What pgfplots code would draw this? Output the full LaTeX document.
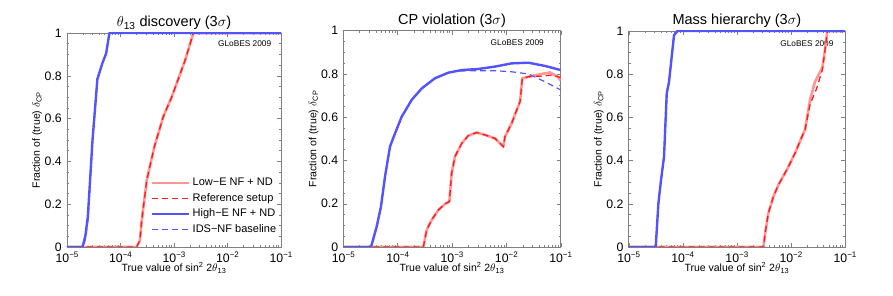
\documentclass[border=0pt]{standalone}
\usepackage{fontspec}
\setmainfont{Liberation Sans}
\usepackage{pgfplots}
\pgfplotsset{compat=1.18}
\definecolor{BlueLine}{RGB}{82,82,255}
\definecolor{BlueDash}{RGB}{85,85,254}
\definecolor{LightRed}{RGB}{255,150,150}
\definecolor{RefRed}{RGB}{255,25,25}
\newcommand{\sups}[1]{\raisebox{4.5pt}{\fontsize{8}{9}\selectfont #1}}
\tikzset{
  globes/.style={font=\fontsize{8.3}{10}\selectfont},
  lredline/.style={draw=LightRed, line width=2.6pt, line join=round},
  rdashline/.style={draw=RefRed, line width=1.3pt, dash pattern=on 6pt off 4pt},
  sblueline/.style={draw=BlueLine, line width=2.4pt, line join=round},
  dblueline/.style={draw=BlueDash, line width=1.2pt, dash pattern=on 6pt off 4pt},
}
\pgfplotsset{
  panel/.style={
    scale only axis,
    anchor=south west,
    xmin=1e-5, xmax=1e-1,
    ymin=0, ymax=1,
    axis line style={gray, line width=0.6pt},
    tick style={gray, line width=0.4pt},
    major tick length=4pt,
    minor tick length=2pt,
    tick align=inside,
    xtick={1e-5,1e-4,1e-3,1e-2,1e-1},
    xticklabels={10\sups{−5},10\sups{−4},10\sups{−3},10\sups{−2},10\sups{−1}},
    ytick={0,0.2,0.4,0.6,0.8,1},
    yticklabels={0,0.2,0.4,0.6,0.8,1},
    minor y tick num=3,
    tick label style={font=\fontsize{12.3}{14}\selectfont},
    xticklabel style={anchor=base, inner sep=0pt, yshift=-15.3pt},
    yticklabel style={anchor=east, inner sep=0pt, xshift=-5pt},
    every axis x label/.style={at={(rel axis cs:0.5,0)}, anchor=base, inner sep=0pt, yshift=-24.7pt, font=\fontsize{10.5}{12}\selectfont},
    every axis y label/.style={at={(rel axis cs:0,0.5)}, xshift=-27pt, rotate=90, anchor=base, inner sep=0pt, font=\fontsize{10.5}{12}\selectfont},
    every axis title/.style={at={(rel axis cs:0.5,1)}, anchor=base, yshift=6pt, font=\fontsize{14.5}{16}\selectfont},
    xlabel={True value of sin\textsuperscript{2} 2$\theta$\textsubscript{13}},
    ylabel={Fraction of (true) $\delta$\textsubscript{CP}},
    clip=true,
  },
}
\begin{document}
\begin{tikzpicture}
\path[use as bounding box] (0pt,0pt) rectangle (893pt,296pt);
% ---------------- Panel 1 ----------------
\begin{semilogxaxis}[panel, at={(67pt,49pt)}, width=214pt, height=214pt,
  title={$\theta$\textsubscript{13} discovery (3$\sigma$)},
  legend style={draw=none, fill=none, at={(rel axis cs:0.99,0.045)}, anchor=south east,
    inner sep=0pt, font=\fontsize{11}{12}\selectfont, row sep=0pt,
    nodes={text height=8pt, text depth=2.5pt, inner sep=2.5pt}},
  legend cell align=left,
]
\node[globes] at (rel axis cs:0.83,0.95) {GLoBES 2009};
\addlegendimage{lredline, legend image code/.code={\draw[lredline] (0pt,0pt) -- (20pt,0pt); \path (0pt,0pt) -- (37pt,0pt);}}
\addlegendentry{Low−E NF + ND}
\addlegendimage{rdashline, legend image code/.code={\draw[rdashline] (0pt,0pt) -- (20pt,0pt); \path (0pt,0pt) -- (37pt,0pt);}}
\addlegendentry{Reference setup}
\addlegendimage{sblueline, legend image code/.code={\draw[sblueline] (0pt,0pt) -- (20pt,0pt); \path (0pt,0pt) -- (37pt,0pt);}}
\addlegendentry{High−E NF + ND}
\addlegendimage{dblueline, legend image code/.code={\draw[dblueline] (0pt,0pt) -- (20pt,0pt); \path (0pt,0pt) -- (37pt,0pt);}}
\addlegendentry{IDS−NF baseline}
\addplot[lredline, forget plot] coordinates {(1e-5,0) (2.0e-4,0) (2.3e-4,0.03) (2.5e-4,0.126) (3.1e-4,0.313) (4.3e-4,0.469) (6.3e-4,0.609) (9.1e-4,0.702) (1.62e-3,0.874) (2.3e-3,1) (1e-1,1)};
\addplot[rdashline, forget plot] coordinates {(1e-5,0) (2.0e-4,0) (2.3e-4,0.03) (2.5e-4,0.126) (3.1e-4,0.313) (4.3e-4,0.469) (6.3e-4,0.609) (9.1e-4,0.702) (1.62e-3,0.874) (2.3e-3,1) (1e-1,1)};
\addplot[sblueline, forget plot] coordinates {(1e-5,0) (1.95e-5,0) (2.2e-5,0.05) (2.45e-5,0.14) (3.0e-5,0.5) (3.7e-5,0.785) (4.6e-5,0.86) (5.4e-5,0.905) (6.2e-5,1) (1e-1,1)};
\addplot[dblueline, forget plot] coordinates {(1e-5,0) (2.05e-5,0) (2.25e-5,0.05) (2.5e-5,0.14) (3.0e-5,0.5) (3.7e-5,0.785) (4.6e-5,0.86) (5.4e-5,0.905) (6.2e-5,1) (1e-1,1)};
\end{semilogxaxis}
% ---------------- Panel 2 ----------------
\begin{semilogxaxis}[panel, at={(343.3pt,49pt)}, width=217.4pt, height=216.3pt,
  title={CP violation (3$\sigma$)},
]
\node[globes] at (rel axis cs:0.80,0.943) {GLoBES 2009};
\addplot[lredline] coordinates {(1e-5,0) (2.97e-4,0) (3.42e-4,0.079) (4.23e-4,0.125) (5.6e-4,0.171) (7.43e-4,0.199) (8.93e-4,0.21) (9.86e-4,0.341) (1.135e-3,0.418) (1.507e-3,0.479) (2.0e-3,0.515) (2.84e-3,0.529) (4.05e-3,0.518) (6.18e-3,0.502) (8.81e-3,0.464) (9.44e-3,0.51) (1.253e-2,0.572) (1.549e-2,0.633) (1.786e-2,0.672) (1.968e-2,0.78) (2.54e-2,0.787) (4.47e-2,0.80) (6.3e-2,0.807) (8.5e-2,0.79) (1e-1,0.77)};
\addplot[rdashline] coordinates {(1e-5,0) (2.97e-4,0) (3.42e-4,0.079) (4.23e-4,0.125) (5.6e-4,0.171) (7.43e-4,0.199) (8.93e-4,0.21) (9.86e-4,0.341) (1.135e-3,0.418) (1.507e-3,0.479) (2.0e-3,0.515) (2.84e-3,0.529) (4.05e-3,0.518) (6.18e-3,0.502) (8.81e-3,0.464) (9.44e-3,0.51) (1.253e-2,0.572) (1.549e-2,0.633) (1.786e-2,0.672) (1.968e-2,0.78) (2.54e-2,0.787) (4.47e-2,0.79) (6.8e-2,0.795) (1e-1,0.784)};
\addplot[sblueline] coordinates {(1e-5,0) (3.24e-5,0) (4.11e-5,0.094) (4.93e-5,0.186) (5.85e-5,0.325) (7.23e-5,0.464) (8.93e-5,0.525) (1.186e-4,0.602) (1.811e-4,0.68) (2.767e-4,0.733) (4.86e-4,0.78) (8.57e-4,0.806) (1.507e-3,0.818) (3.05e-3,0.823) (6.18e-3,0.834) (1.253e-2,0.849) (2.54e-2,0.852) (5.15e-2,0.837) (1e-1,0.818)};
\addplot[dblueline] coordinates {(1e-5,0) (3.24e-5,0) (4.11e-5,0.094) (4.93e-5,0.186) (5.85e-5,0.325) (7.23e-5,0.464) (8.93e-5,0.525) (1.186e-4,0.602) (1.811e-4,0.68) (2.767e-4,0.733) (4.86e-4,0.78) (8.57e-4,0.806) (1.15e-3,0.812) (2.0e-3,0.815) (6.18e-3,0.815) (1.253e-2,0.81) (2.54e-2,0.80) (5.15e-2,0.764) (1e-1,0.726)};
\end{semilogxaxis}
% ---------------- Panel 3 ----------------
\begin{semilogxaxis}[panel, at={(628.7pt,49pt)}, width=216.3pt, height=216pt,
  title={Mass hierarchy (3$\sigma$)},
]
\node[globes] at (rel axis cs:0.824,0.943) {GLoBES 2009};
\addplot[lredline] coordinates {(1e-5,0) (3.09e-3,0) (3.41e-3,0.079) (3.82e-3,0.156) (4.73e-3,0.233) (5.85e-3,0.287) (8.34e-3,0.356) (1.189e-2,0.434) (1.698e-2,0.526) (1.82e-2,0.542) (2.254e-2,0.681) (2.786e-2,0.765) (3.81e-2,0.83) (4.27e-2,0.912) (4.71e-2,1) (1e-1,1)};
\addplot[rdashline] coordinates {(1e-5,0) (3.09e-3,0) (3.41e-3,0.079) (3.82e-3,0.156) (4.73e-3,0.233) (5.85e-3,0.287) (8.34e-3,0.356) (1.189e-2,0.434) (1.698e-2,0.526) (1.82e-2,0.542) (2.254e-2,0.66) (3.0e-2,0.735) (3.81e-2,0.82) (4.27e-2,0.912) (4.71e-2,1) (1e-1,1)};
\addplot[sblueline] coordinates {(1e-5,0) (3.16e-5,0) (3.54e-5,0.202) (3.96e-5,0.31) (4.5e-5,0.418) (5.05e-5,0.711) (5.57e-5,0.765) (6.24e-5,0.881) (6.89e-5,0.981) (7.94e-5,1) (1e-1,1)};
\addplot[dblueline] coordinates {(1e-5,0) (3.16e-5,0) (3.54e-5,0.202) (3.96e-5,0.31) (4.5e-5,0.418) (5.05e-5,0.711) (5.57e-5,0.765) (6.24e-5,0.881) (6.89e-5,0.981) (7.94e-5,1) (1e-1,1)};
\end{semilogxaxis}
\end{tikzpicture}
\end{document}
